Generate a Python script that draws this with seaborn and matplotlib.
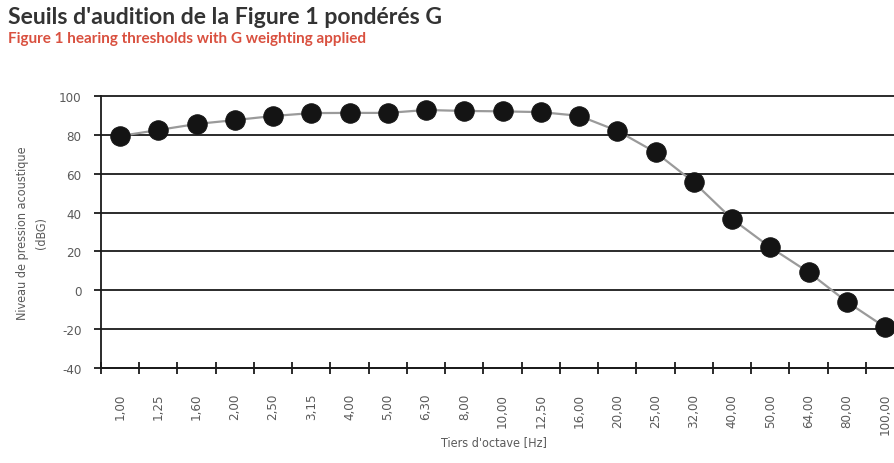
import matplotlib
matplotlib.use("Agg")
import matplotlib.pyplot as plt
import seaborn as sns
import pandas as pd
from matplotlib.ticker import FixedLocator, NullFormatter, FixedFormatter

categories = ["1,00", "1,25", "1,60", "2,00", "2,50", "3,15", "4,00", "5,00", "6,30", "8,00",
              "10,00", "12,50", "16,00", "20,00", "25,00", "32,00", "40,00", "50,00", "64,00",
              "80,00", "100,00"]
values = [79.4, 82.5, 85.6, 87.6, 89.7, 91.2, 91.3, 91.3, 92.8, 92.3,
          92.1, 91.7, 89.8, 82.1, 71.0, 55.6, 36.7, 22.1, 9.3, -5.9, -19.0]
yticks = [-40, -20, 0, 20, 40, 60, 80, 100]

title = "Seuils d'audition de la Figure 1 pondérés G"
subtitle = "Figure 1 hearing thresholds with G weighting applied"
ylabel = "Niveau de pression acoustique\n(dBG)"
xlabel = "Tiers d'octave [Hz]"

sns.set_theme(style="white")
plt.rcParams['font.family'] = ['DejaVu Sans']
plt.rcParams['font.stretch'] = 'condensed'

df = pd.DataFrame({"pos": list(range(len(categories))), "val": values})

fig = plt.figure(figsize=(8.95, 4.64), dpi=100)
ax = fig.add_axes([101/895, 1 - 369/464, 1 - 101/895, (369 - 97)/464])

for y in yticks:
    ax.axhline(y, color="#1a1a1a", lw=1.3, zorder=1, clip_on=False)

sns.lineplot(data=df, x="pos", y="val", ax=ax, color="#9a9a9a", lw=1.6,
             marker="o", markersize=14, markerfacecolor="#141414",
             markeredgecolor="#141414", zorder=3, clip_on=False)

ax.set_xlim(-0.5, 20.26)
ax.set_ylim(-40, 100)
ax.set_yticks(yticks)
ax.set_yticklabels([str(v) for v in yticks], color="#5a5a5a", fontsize=9.5)

ax.xaxis.set_major_locator(FixedLocator([i - 0.5 for i in range(len(categories) + 1)]))
ax.xaxis.set_major_formatter(NullFormatter())
ax.xaxis.set_minor_locator(FixedLocator(list(range(len(categories)))))
ax.xaxis.set_minor_formatter(FixedFormatter(categories))
ax.tick_params(axis="x", which="major", direction="inout", length=8, width=1.3, color="#1a1a1a", bottom=True)
ax.tick_params(axis="x", which="minor", length=0, pad=18, labelrotation=90, labelsize=9.5, labelcolor="#5a5a5a", bottom=True)
ax.tick_params(axis="y", direction="out", length=5, width=1.3, color="#1a1a1a", left=True, pad=9)

for s in ["top", "right"]:
    ax.spines[s].set_visible(False)
for s in ["left", "bottom"]:
    ax.spines[s].set_color("#1a1a1a")
    ax.spines[s].set_linewidth(1.3)

ax.set_xlabel("")
ax.set_ylabel("")
fig.text(494/895, 1 - 443/464, xlabel, ha="center", va="center", fontsize=9, color="#5a5a5a")
fig.text(32/895, 1 - 233/464, ylabel, ha="center", va="center", rotation=90, fontsize=9,
         color="#5a5a5a", linespacing=1.6)

fig.text(8/895, 1 - 18/464, title, ha="left", va="center", fontsize=16.6, fontweight="bold",
         color="#333333", family=["Lato", "DejaVu Sans"])
fig.text(8/895, 1 - 39/464, subtitle, ha="left", va="center", fontsize=11, fontweight="bold",
         color="#d9503f", family=["Lato", "DejaVu Sans"])

fig.savefig("out.png", dpi=100)
